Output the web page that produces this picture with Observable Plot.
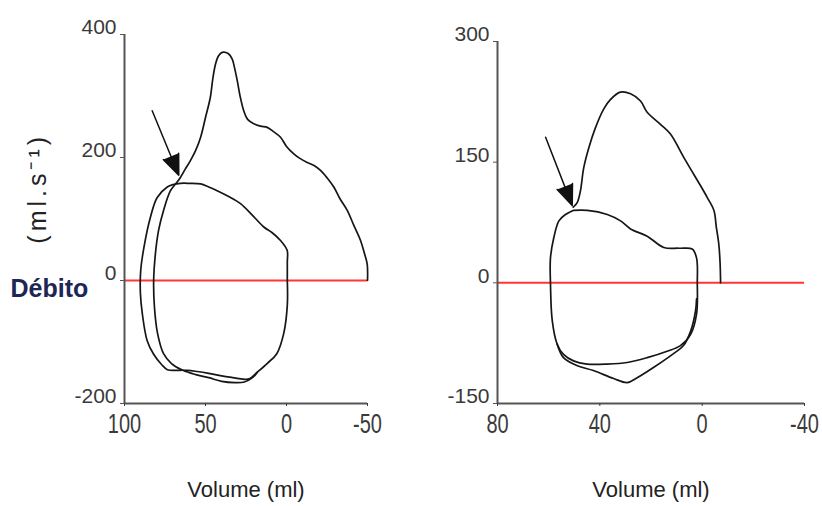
<!DOCTYPE html>
<html><head><meta charset="utf-8">
<script src="https://cdn.jsdelivr.net/npm/d3@7"></script>
<script src="https://cdn.jsdelivr.net/npm/@observablehq/plot@0.6"></script>
<style>
body{margin:0;background:#fff;}
#wrap{position:relative;width:822px;height:506px;overflow:hidden;}
#wrap svg{position:absolute;top:0;}
</style></head><body><div id="wrap"></div>
<script>
// ---------- Left panel data ----------
const leftXTicks = [100, 50, 0, -50];
const leftYTicks = [-200, 0, 200, 400];
// tidal loop + outer left limb (closed)
const leftLoopVol  = [-0.5,-0.5,-0.4,3.7,9,14,21,28.4,36,42.8,48,53,60,65.4,70,73.6,79.8,84,88,90,90.2,89,86,82,77,73.5,67,61,55,48,40,33,28,23,18,12,6,1.7,-0.5,-0.5];
const leftLoopFlow = [0,30,49,65,78,87,106,125,137,146,152,157,158,158,156,152,135,103,54,16,-20,-54,-98,-120,-137,-145,-146,-146,-148,-151,-155,-158,-160,-160,-149,-135,-119,-86,-40,0];
// maximal curve
const leftMaxVol  = [-50,-49.8,-48,-45.7,-41.5,-37.5,-33,-29.2,-25,-21,-17,-12.8,-8,-4.5,0,3.7,8,11.9,16,20.2,24,26.4,28.5,30.4,32,33.5,36,39.7,42,43.8,45.5,47,50,53,56,59.3,62.5,65.4,67.5,71.6,75.9,79,80.9,82,81.5,79.6,75.9,71,64,56,48,40,32,26,21,18];
const leftMaxFlow = [0,27,45,65,90,114,133,152,167,179,187,192,199,206,218,233,242,249,251,255,262,276,298,325,345,360,369,371,365,352,328,298,265,233,212,195,181,168,160,146,114,81,44,0,-44,-86,-119,-135,-146,-153,-158,-164,-166,-165,-158,-149];
const leftArrowFrom = [82.9, 276];
const leftArrowTo   = [66.5, 171];

// ---------- Right panel data ----------
const rightXTicks = [80, 40, 0, -40];
const rightYTicks = [-150, 0, 150, 300];
const rightLoopVol  = [50.4,44.9,37.1,31.9,28,21.5,15,9,3.9,2.2,1.9,2.2,4.5,8.5,13.7,21.5,29.3,37.1,45,50.3,54.2,56.7,58.6,59.3,59.3,58,56,53.4,50.4];
const rightLoopFlow = [90,90,85,77,67,58,44,43,42,31,0,-39,-64,-78,-85,-93,-99,-101,-101,-97,-89,-76,-47,0,31,56,77,85,90];
const rightMaxVol  = [-7.2,-7,-6.5,-5.5,-4.6,-2,0.5,3.3,7.2,12.4,16.3,21.5,24.1,28,32,35.8,38.5,41.7,44.3,46.3,47.6,48.8,50.4];
const rightMaxFlow = [0,25,48,70,90,106,120,135,156,185,197,212,226,235,237,228,216,193,168,143,114,100,94];
const rightLowVol  = [56.7,54.2,48.8,42.5,34.6,29.3,25.4,18.9,11.2,7.3,4.5,2.6,2.2];
const rightLowFlow = [-76,-93,-103,-109,-119,-124,-118,-105,-88,-78,-60,-35,-20];
const rightArrowFrom = [61.2, 181];
const rightArrowTo   = [50.8, 96];

const xLabel = "Volume (ml)";
const yLabel = "(ml.s\u207B\u00B9)";
const yName = "Débito";

function series(id, vols, flows) { return vols.map((v, i) => ({id, v, f: flows[i]})); }

const FONT = "'Liberation Sans', Arial, sans-serif";

function panel({left, width, marginLeft, marginRight, marginTop, xDomain, yDomain, xTicks, yTicks, lines, arrowFrom, arrowTo, extra = []}) {
  const data = lines.flat();
  const svg = Plot.plot({
    width, height: 506,
    marginLeft, marginRight, marginTop, marginBottom: 103,
    style: {fontFamily: FONT, background: "transparent", overflow: "visible"},
    x: {domain: xDomain},
    y: {domain: yDomain},
    marks: [
      Plot.ruleY([0], {stroke: "#ff3636", strokeWidth: 2}),
      Plot.line(data, {x: "v", y: "f", z: "id", stroke: "#161616", strokeWidth: 1.7, curve: "catmull-rom"}),
      Plot.arrow([{a: arrowFrom, b: arrowTo}], {x1: d => d.a[0], y1: d => d.a[1], x2: d => d.b[0], y2: d => d.b[1],
        stroke: "#111", fill: "#111", strokeWidth: 1.5, headLength: 22, headAngle: 44}),
      Plot.ruleX([xDomain[0]], {stroke: "#555", strokeWidth: 2}),
      Plot.ruleY([yDomain[0]], {stroke: "#555", strokeWidth: 2}),
      Plot.axisX({ticks: xTicks, tickFormat: d => String(d), tickSize: 3, tickPadding: 7, fontSize: 20, color: "#3a3a3a", label: null}),
      Plot.axisY({ticks: yTicks, tickFormat: () => "", tickSize: 4, color: "#555", label: null}),
      Plot.axisY({ticks: yTicks, tickFormat: d => String(d), tickSize: 0, tickPadding: 8, dy: -7, fontSize: 21, color: "#3a3a3a", label: null}),
      Plot.text([xLabel], {text: d => d, frameAnchor: "bottom", dy: 86, lineAnchor: "middle", textAnchor: "middle", fontSize: 22, fill: "#222"}),
      ...extra
    ]
  });
  svg.style.left = left + "px";
  // stretch x tick labels vertically (condensed look of the original)
  svg.querySelectorAll('g[aria-label="x-axis tick label"] text').forEach(t => {
    const tr = t.getAttribute("transform") || "";
    t.setAttribute("transform", tr + " scale(1,1.35)");
  });
  svg.querySelectorAll("text").forEach(t => {
    if (t.textContent === yLabel) t.setAttribute("letter-spacing", "4");
  });
  document.getElementById("wrap").appendChild(svg);
}

panel({
  left: 0, width: 411, marginLeft: 124, marginRight: 44, marginTop: 34,
  xDomain: [100, -50], yDomain: [-200, 400], xTicks: leftXTicks, yTicks: leftYTicks,
  lines: [series("loop", leftLoopVol, leftLoopFlow), series("max", leftMaxVol, leftMaxFlow)],
  arrowFrom: leftArrowFrom, arrowTo: leftArrowTo,
  extra: [
    Plot.text([yName], {y: () => 0, text: d => d, frameAnchor: "left", dx: -114, dy: 8, textAnchor: "start", fontSize: 25, fontWeight: "bold", fill: "#1e2656"}),
    Plot.text([yLabel], {y: () => 150, text: d => d, frameAnchor: "left", dx: -87, rotate: -90, textAnchor: "middle", lineAnchor: "middle", fontSize: 25, fill: "#222"})
  ]
});

panel({
  left: 411, width: 411, marginLeft: 86, marginRight: 18, marginTop: 41,
  xDomain: [80, -40], yDomain: [-150, 300], xTicks: rightXTicks, yTicks: rightYTicks,
  lines: [series("loop", rightLoopVol, rightLoopFlow), series("max", rightMaxVol, rightMaxFlow), series("low", rightLowVol, rightLowFlow)],
  arrowFrom: rightArrowFrom, arrowTo: rightArrowTo
});
</script>
</body></html>
